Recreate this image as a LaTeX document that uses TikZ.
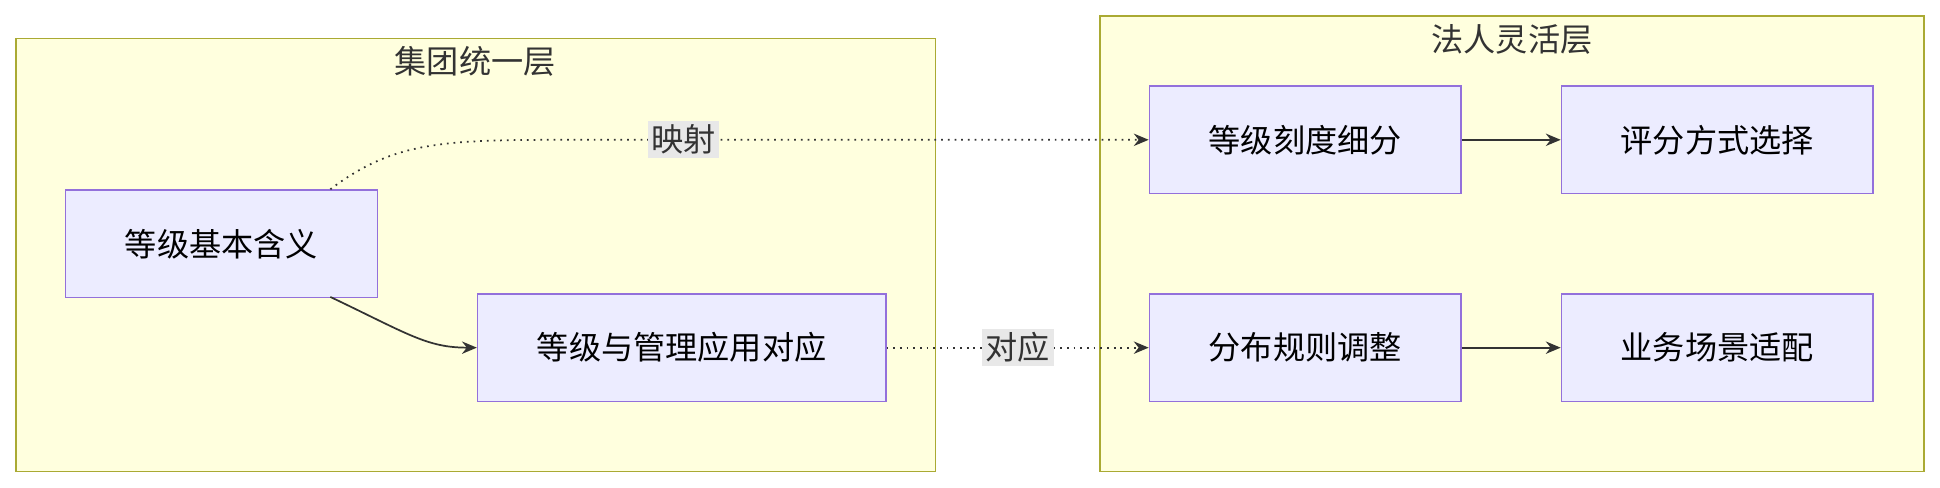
\documentclass[tikz,border=0pt]{standalone}
\usepackage{fontspec}
\setmainfont{Noto Sans CJK SC}
\usetikzlibrary{arrows.meta}
\definecolor{clusterfill}{HTML}{FFFFDE}
\definecolor{clusterline}{HTML}{AAAA33}
\definecolor{boxfill}{HTML}{ECECFF}
\definecolor{boxline}{HTML}{9370DB}
\definecolor{edgeline}{HTML}{333333}
\definecolor{labelfill}{HTML}{E8E8E8}
\begin{document}
\begin{tikzpicture}
    [ x=.5pt, y=-.5pt, font=\fontsize{13pt}{15pt}\selectfont,
      cluster/.style={draw=clusterline, fill=clusterfill, line width=.6pt},
      stage/.style={draw=boxline, fill=boxfill, line width=.6pt,
                   minimum width=126pt, minimum height=43.5pt, inner sep=0pt},
      wide/.style={stage, minimum width=165pt},
      link/.style={draw=edgeline, line width=.7pt, -{Stealth[length=6pt,width=5pt]}},
      map/.style={link, dotted},
      tag/.style={fill=labelfill, inner sep=1.5pt, text=edgeline},
    ]
    \useasboundingbox (0, 0) rectangle (1568, 394);

    % clusters
    \draw[cluster] (13, 31) rectangle (756, 381);
    \node[text=edgeline] (groupTitle) at (384, 50) {集团统一层};
    \draw[cluster] (889, 13) rectangle (1555, 381);
    \node[text=edgeline] (entityTitle) at (1222, 32) {法人灵活层};

    % nodes
    \node[stage] (basic) at (179, 197) {等级基本含义};
    \node[wide] (mgmt) at (551, 281) {等级与管理应用对应};
    \node[stage] (scale) at (1055, 113) {等级刻度细分};
    \node[stage] (score) at (1388, 113) {评分方式选择};
    \node[stage] (distr) at (1055, 281) {分布规则调整};
    \node[stage] (scene) at (1388, 281) {业务场景适配};
    \coordinate (basicTop) at (267, 153);
    \coordinate (basicBot) at (267, 240);

    % edges
    \draw[map] (basicTop) .. controls (320, 113) and (360, 113) .. (470, 113)
        -- (scale.west) node[tag, pos=.18] {映射};
    \draw[link] (basicBot) .. controls (330, 270) and (345, 281) .. (mgmt.west);
    \draw[map] (mgmt.east) -- (distr.west) node[tag, midway] {对应};
    \draw[link] (scale) -- (score);
    \draw[link] (distr) -- (scene);
\end{tikzpicture}
\end{document}
